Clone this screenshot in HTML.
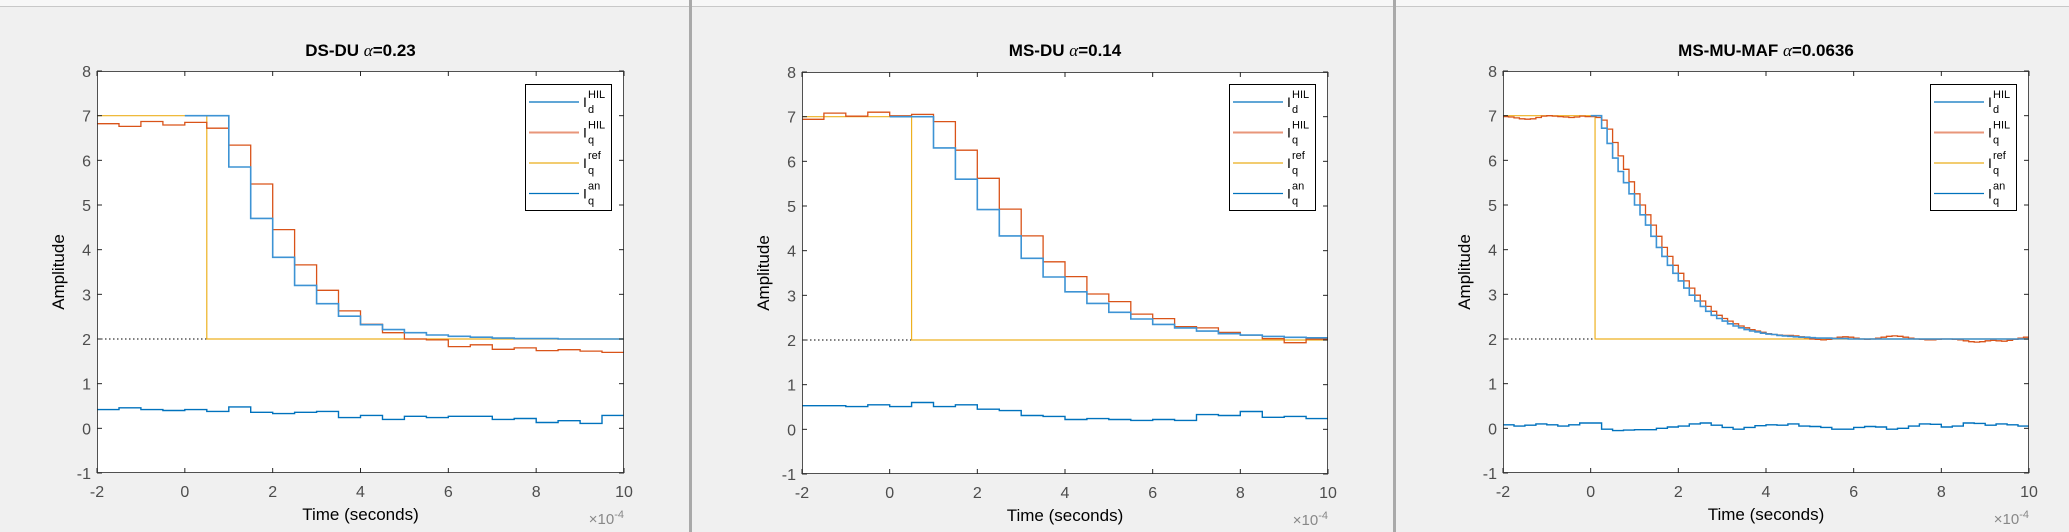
<!DOCTYPE html>
<html><head><meta charset="utf-8"><style>
html,body{margin:0;padding:0;background:#f0f0f0;}
body{width:2069px;height:532px;overflow:hidden;position:relative;font-family:"Liberation Sans",sans-serif;}
svg{position:absolute;left:0;top:0;}
</style></head><body>
<svg id="fig" width="2069" height="532" viewBox="0 0 2069 532"></svg>
<script>
// ---------- data ----------
const titles = ["DS-DU", "MS-DU", "MS-MU-MAF"];
const alphas = ["0.23", "0.14", "0.0636"];
const xTicks = [-2, 0, 2, 4, 6, 8, 10];
const yTicks = [-1, 0, 1, 2, 3, 4, 5, 6, 7, 8];
const refStep = [0.5, 0.5, 0.1];
const refHigh = 7, refLow = 2;

// panel 1 (dt 0.5)
const p1Id = [0.42,0.46,0.42,0.40,0.42,0.38,0.48,0.36,0.33,0.36,0.38,0.24,0.29,0.20,0.27,0.24,0.27,0.27,0.20,0.22,0.13,0.17,0.11,0.29];
const p1Iq = [6.82,6.76,6.87,6.79,6.85,6.72,6.34,5.47,4.45,3.66,3.09,2.63,2.33,2.14,2.0,1.98,1.83,1.87,1.77,1.80,1.74,1.76,1.73,1.70];
const p1An = [7.0,7.0,5.85,4.70,3.83,3.20,2.79,2.51,2.32,2.21,2.14,2.09,2.06,2.04,2.02,2.01,2.01,2.0,2.0,2.0];
// panel 2 (dt 0.5)
const p2Id = [0.53,0.53,0.51,0.55,0.51,0.60,0.51,0.55,0.45,0.42,0.31,0.29,0.22,0.24,0.22,0.20,0.22,0.20,0.33,0.31,0.40,0.27,0.29,0.24];
const p2Iq = [6.94,7.08,7.01,7.10,7.02,7.05,6.89,6.25,5.62,4.93,4.33,3.75,3.42,3.03,2.86,2.58,2.48,2.30,2.27,2.17,2.11,2.03,1.94,2.02];
const p2An = [7.0,7.0,6.30,5.60,4.92,4.33,3.83,3.41,3.08,2.82,2.62,2.47,2.35,2.27,2.20,2.14,2.11,2.08,2.06,2.05];
// panel 3
const p3Id = [0.08,0.05,0.07,0.10,0.08,0.05,0.08,0.12,0.12,-0.02,-0.05,-0.04,-0.03,-0.03,0.0,0.03,0.05,0.10,0.12,0.07,0.02,-0.02,0.02,0.06,0.08,0.07,0.10,0.05,0.04,0.02,-0.02,-0.02,0.02,0.04,0.03,-0.02,0.0,0.05,0.10,0.09,0.03,0.05,0.12,0.11,0.07,0.10,0.08,0.05];
const p3IqPre = [6.98,6.97,6.95,6.93,6.92,6.93,6.96,6.99,7.0,6.99,6.98,6.97,6.96,6.97,6.99,6.98,6.98,6.96];
const p3Iq = [6.9,6.7,6.4,6.1,5.8,5.52,5.25,5.0,4.78,4.55,4.3,4.05,3.85,3.65,3.47,3.3,3.14,2.98,2.85,2.73,2.62,2.53,2.46,2.4,2.34,2.29,2.25,2.21,2.18,2.15,2.12,2.1,2.09,2.08,2.08,2.07,2.05,2.03,2.0,1.99,1.98,1.99,2.02,2.04,2.05,2.04,2.02,2.0,1.99,2.0,2.02,2.04,2.06,2.07,2.06,2.04,2.02,2.0,1.99,1.98,1.98,1.99,2.0,2.0,1.99,1.98,1.96,1.94,1.93,1.94,1.96,1.97,1.96,1.95,1.97,1.99,2.02,2.04];
const p3An = [7.0,7.0,6.72,6.38,6.05,5.75,5.5,5.25,5.0,4.78,4.55,4.3,4.05,3.85,3.65,3.47,3.3,3.14,2.98,2.85,2.73,2.62,2.53,2.46,2.4,2.34,2.29,2.25,2.21,2.18,2.16,2.13,2.11,2.1,2.08,2.07,2.06,2.05,2.04,2.04,2.03,2.02,2.02,2.02,2.01,2.01,2.01,2.0];

const panels = [
  {L:97, R:624, T:71, B:473, id:{v:p1Id,t0:-2,dt:0.5}, iq:[{v:p1Iq,t0:-2,dt:0.5}], an:{v:p1An,t0:0,dt:0.5}},
  {L:802,R:1328,T:72, B:474, id:{v:p2Id,t0:-2,dt:0.5}, iq:[{v:p2Iq,t0:-2,dt:0.5}], an:{v:p2An,t0:0,dt:0.5}},
  {L:1503,R:2029,T:71,B:473, id:{v:p3Id,t0:-2,dt:0.25}, iq:[{v:p3IqPre,t0:-2,dt:0.125},{v:p3Iq,t0:0.25,dt:0.125}], an:{v:p3An,t0:0,dt:0.125}}
];

const NS = "http://www.w3.org/2000/svg";
const fig = document.getElementById('fig');
function mk(tag, attrs, parent){ const e=document.createElementNS(NS,tag); for(const k in attrs) e.setAttribute(k,attrs[k]); (parent||fig).appendChild(e); return e; }

// window chrome
mk('rect',{x:0,y:0,width:2069,height:6,fill:'#f7f7f7'});
mk('line',{x1:0,y1:6.5,x2:2069,y2:6.5,stroke:'#c8c8c8'});
mk('rect',{x:689,y:0,width:3,height:532,fill:'#a9a9a9'});
mk('rect',{x:1393,y:0,width:3,height:532,fill:'#a9a9a9'});

panels.forEach((p,pi)=>{
  const g = mk('g',{});
  
  
  const sx = x => p.L + (x+2)/12*(p.R-p.L);
  const sy = y => p.B - (y+1)/9*(p.B-p.T);
  mk('rect',{x:p.L,y:p.T,width:p.R-p.L,height:p.B-p.T,fill:'#fff'},g);
  const clipId='clip'+pi;
  const cp=mk('clipPath',{id:clipId},g); mk('rect',{x:p.L,y:p.T,width:p.R-p.L,height:p.B-p.T},cp);
  const plot = mk('g',{'clip-path':'url(#'+clipId+')'},g);

  function stairs(s, hold){
    let d='';
    s.v.forEach((v,i)=>{
      const x0=sx(s.t0+i*s.dt), x1=sx(s.t0+(i+1)*s.dt);
      d += (i===0?'M':'L')+x0.toFixed(1)+','+sy(v).toFixed(1)+'L'+x1.toFixed(1)+','+sy(v).toFixed(1);
    });
    if(hold){ d += 'L'+sx(10).toFixed(1)+','+sy(s.v[s.v.length-1]).toFixed(1); }
    return d;
  }
  // dotted line
  const dl=mk('line',{x1:sx(-2),x2:sx(refStep[pi]),y1:sy(refLow),y2:sy(refLow),stroke:'#000','stroke-dasharray':'1.5,2.5','stroke-width':1},plot);
   
  // ref
  const ref=mk('path',{d:'M'+sx(-2)+','+sy(refHigh)+'L'+sx(refStep[pi])+','+sy(refHigh)+'L'+sx(refStep[pi])+','+sy(refLow)+'L'+sx(10)+','+sy(refLow),fill:'none',stroke:'#EDB120','stroke-width':1.2},plot);
   
  // Iq HIL
  let dq=''; p.iq.forEach((s,k)=>{ let d=stairs(s,k===p.iq.length-1); if(k>0) d='L'+d.slice(1); dq+=d; });
  const iq=mk('path',{d:dq,fill:'none',stroke:'#D95319','stroke-width':1.3},plot);
   
  // an
  const an=mk('path',{d:stairs(p.an,true),fill:'none',stroke:'#3d93d4','stroke-width':1.6},plot);
   
  // Id
  const idl=mk('path',{d:stairs(p.id,true),fill:'none',stroke:'#0072BD','stroke-width':1.4},plot);
   

  // box
  mk('rect',{x:p.L+0.5,y:p.T+0.5,width:p.R-p.L-1,height:p.B-p.T-1,fill:'none',stroke:'#262626','stroke-width':1,opacity:0.8},g);
  // ticks
  xTicks.forEach(t=>{
    const x=sx(t);
    mk('line',{x1:x,x2:x,y1:p.B,y2:p.B-5,stroke:'#262626'},g);
    mk('line',{x1:x,x2:x,y1:p.T,y2:p.T+5,stroke:'#262626'},g);
    const tl=mk('text',{x:x,y:p.B+24,'text-anchor':'middle','font-size':16,fill:'#4d4d4d'},g); tl.textContent=t;
     
  });
  yTicks.forEach(t=>{
    const y=sy(t);
    mk('line',{x1:p.L,x2:p.L+5,y1:y,y2:y,stroke:'#262626'},g);
    mk('line',{x1:p.R,x2:p.R-5,y1:y,y2:y,stroke:'#262626'},g);
    const tl=mk('text',{x:p.L-6,y:y+6,'text-anchor':'end','font-size':16,fill:'#4d4d4d'},g); tl.textContent=t;
     
  });
  // title
  const tt=mk('text',{x:(p.L+p.R)/2,y:56,'text-anchor':'middle','font-size':17,'font-weight':'bold',fill:'#000'},g);
   
  tt.innerHTML = titles[pi]+' <tspan font-family="Liberation Serif" font-style="italic" font-weight="normal">α</tspan>='+alphas[pi];
  // axis labels
  const xl=mk('text',{x:(p.L+p.R)/2,y:p.B+47,'text-anchor':'middle','font-size':17,fill:'#000'},g); xl.textContent='Time (seconds)';
   
  const yl=mk('text',{x:0,y:0,'text-anchor':'middle','font-size':17,fill:'#000',transform:'translate('+(p.L-33)+','+((p.T+p.B)/2)+') rotate(-90)'},g); yl.textContent='Amplitude';
   
  const ex=mk('text',{x:p.R,y:p.B+51,'text-anchor':'end','font-size':15,fill:'#888'},g);
  ex.innerHTML='×10<tspan dy="-6" font-size="11">-4</tspan>';
   

  // legend
  const lx=p.R-99, ly=84;
  const lg=mk('g',{},g);
   
  mk('rect',{x:lx+0.5,y:ly+0.5,width:86,height:126,fill:'#fff',stroke:'#000','stroke-width':1},lg);
  const entries=[['#0072BD','HIL','d'],['#E8967A','HIL','q'],['#F2CC70','ref','q'],['#0072BD','an','q']];
  entries.forEach((e,i)=>{
    const y=ly+18+i*30.5;
    const eg=mk('g',{},lg);
     
    mk('line',{x1:lx+4,x2:lx+54,y1:y,y2:y,stroke:e[0],'stroke-width':i===0||i===3?1.2:2},eg);
    const t1=mk('text',{x:lx+58,y:y+5,'font-size':14,fill:'#000'},eg); t1.textContent='I';
    const t2=mk('text',{x:lx+63,y:y-4,'font-size':11,fill:'#000'},eg); t2.textContent=e[1];
    const t3=mk('text',{x:lx+63,y:y+11,'font-size':11,fill:'#000'},eg); t3.textContent=e[2];
  });
});
</script>
</body></html>
